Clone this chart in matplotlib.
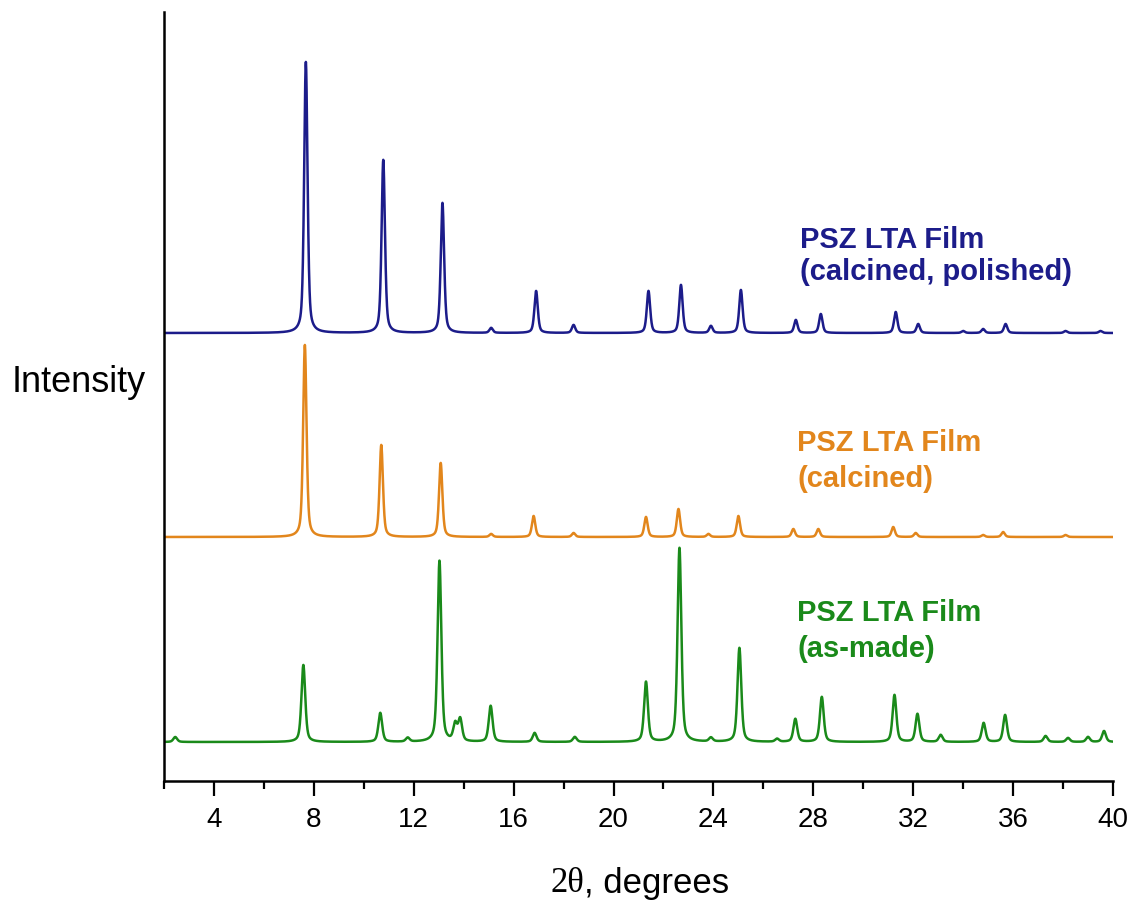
import numpy as np
import matplotlib.pyplot as plt

# XRD peak tables: 2theta position and height above the trace baseline (arb. units)
blue_pos = [7.68, 10.78, 13.15, 15.1, 16.9, 18.4, 21.4, 22.7, 23.9, 25.1, 27.3, 28.3,
            31.3, 32.2, 34.0, 34.8, 35.7, 38.1, 39.5]
blue_hgt = [271, 173, 130, 5, 42, 8, 42, 48, 7, 43, 13, 19,
            21, 9, 2, 4, 9, 2, 2]

orange_pos = [7.64, 10.7, 13.08, 15.1, 16.8, 18.4, 21.3, 22.6, 23.8, 25.0, 27.2, 28.2,
              31.2, 32.1, 34.8, 35.6, 38.1]
orange_hgt = [192, 92, 74, 3, 21, 4, 20, 28, 3, 21, 8, 8,
              10, 4, 2, 5, 2]

green_pos = [2.45, 7.58, 10.66, 11.76, 13.03, 13.66, 13.86, 15.08, 16.84, 18.45, 21.3, 22.64,
             23.9, 25.04, 26.55, 27.28, 28.34, 31.25, 32.17, 33.1, 34.82, 35.68, 37.3, 38.2,
             39.0, 39.64]
green_hgt = [5, 77, 29, 4, 181, 17, 22, 36, 9, 5, 60, 194,
             4, 94, 3, 23, 45, 47, 28, 7, 19, 27, 6, 4,
             5, 11]

# vertical offsets of the stacked patterns
offsets = {'blue': 448, 'orange': 244, 'green': 39}

labels = ['PSZ LTA Film\n(calcined, polished)', 'PSZ LTA Film\n(calcined)', 'PSZ LTA Film\n(as-made)']
colours = ['#1c1c8a', '#e2861c', '#1a8a1a']


def pattern(x, pos, hgt, fwhm):
    # pseudo-voigt peak shape for each listed reflection
    y = np.zeros_like(x)
    for p, h in zip(pos, hgt):
        d = (x - p) / (fwhm / 2)
        lor = 1 / (1 + d ** 2)
        gau = np.exp(-np.log(2) * d ** 2)
        y += h * (0.5 * lor + 0.5 * gau)
    return y


x = np.linspace(2, 40, 7601)

fig = plt.figure(figsize=(11.33, 9), dpi=100)
ax = fig.add_axes([164 / 1133, 1 - 781 / 900, (1113 - 164) / 1133, (781 - 12) / 900])

ax.plot(x, offsets['blue'] + pattern(x, blue_pos, blue_hgt, 0.16), color=colours[0], lw=1.8)
ax.plot(x, offsets['orange'] + pattern(x, orange_pos, orange_hgt, 0.16), color=colours[1], lw=1.8)
ax.plot(x, offsets['green'] + pattern(x, green_pos, green_hgt, 0.18), color=colours[2], lw=1.8)

ax.set_xlim(2, 40)
ax.set_ylim(0, 769)
ax.set_xticks(range(4, 41, 4))
ax.set_xticks(range(2, 41, 4), minor=True)
ax.set_yticks([])
ax.tick_params(axis='x', which='major', direction='out', length=11, width=1.6,
               labelsize=20, pad=8)
ax.tick_params(axis='x', which='minor', direction='out', length=6, width=1.6)
for lab in ax.get_xticklabels():
    lab.set_family('Liberation Sans')
ax.spines['top'].set_visible(False)
ax.spines['right'].set_visible(False)
ax.spines['left'].set_linewidth(1.8)
ax.spines['bottom'].set_linewidth(1.8)

# sample labels
ax.text(27.45, 525, labels[0], color=colours[0], fontsize=21, fontweight='bold',
        family='Liberation Sans', va='center', linespacing=1.2)
ax.text(27.35, 320, labels[1], color=colours[1], fontsize=21, fontweight='bold',
        family='Liberation Sans', va='center', linespacing=1.4)
ax.text(27.35, 150, labels[2], color=colours[2], fontsize=21, fontweight='bold',
        family='Liberation Sans', va='center', linespacing=1.4)

fig.text(12 / 1133, 1 - 383 / 900, 'Intensity', fontsize=26, family='Liberation Sans',
         va='center', ha='left')
t1 = fig.text(550 / 1133, 1 - 883 / 900, '2\u03b8', fontsize=25, family='Liberation Serif',
              va='center', ha='left')
ax.annotate(', degrees', xy=(1, 0), xycoords=t1, fontsize=25, family='Liberation Sans',
            va='bottom', ha='left')

fig.savefig('out.png', dpi=100)
